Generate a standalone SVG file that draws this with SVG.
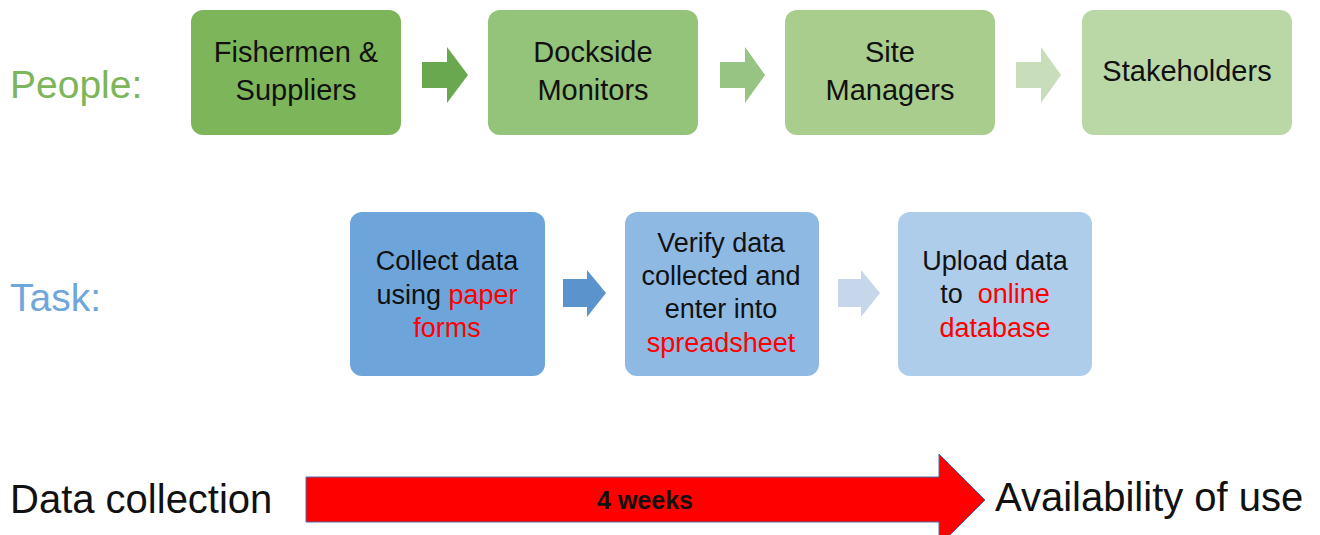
<svg xmlns="http://www.w3.org/2000/svg" width="1320" height="535" viewBox="0 0 1320 535">
<style>
.bt{font-family:"Liberation Sans",Arial,sans-serif;font-size:29px;fill:#111;text-anchor:middle}
.tt{font-family:"Liberation Sans",Arial,sans-serif;font-size:27px;fill:#111;text-anchor:middle}
.r{fill:#ff0000}
.lbl{font-family:"Liberation Sans",Arial,sans-serif;font-size:40px}
</style>
<rect width="1320" height="535" fill="#ffffff"/>
<text class="lbl" x="10" y="98" fill="#7DB55A" style="font-size:39px">People:</text>
<text class="lbl" x="10" y="311" fill="#6FA6DB" style="font-size:39px">Task:</text>
<text class="lbl" x="10" y="513" fill="#111">Data collection</text>
<text class="lbl" x="995" y="511" fill="#111">Availability of use</text>

<g id="n1"><rect x="191" y="10" width="210" height="125" rx="12" fill="#7DB65A"/>
<text class="bt" x="296" y="62">Fishermen &amp;</text><text class="bt" x="296" y="100">Suppliers</text></g>
<g id="n2"><rect x="488" y="10" width="210" height="125" rx="12" fill="#94C37A"/>
<text class="bt" x="593" y="62">Dockside</text><text class="bt" x="593" y="100">Monitors</text></g>
<g id="n3"><rect x="785" y="10" width="210" height="125" rx="12" fill="#A9CD8C"/>
<text class="bt" x="890" y="62">Site</text><text class="bt" x="890" y="100">Managers</text></g>
<g id="n4"><rect x="1082" y="10" width="210" height="125" rx="12" fill="#B9D8A6"/>
<text class="bt" x="1187" y="81">Stakeholders</text></g>

<g id="t1"><rect x="350" y="212" width="195" height="164" rx="12" fill="#6DA5DA"/>
<text class="tt" x="447" y="270">Collect data</text>
<text class="tt" x="447" y="304">using <tspan class="r">paper</tspan></text>
<text class="tt" x="447" y="337"><tspan class="r">forms</tspan></text></g>
<g id="t2"><rect x="625" y="212" width="194" height="164" rx="12" fill="#8EB9E3"/>
<text class="tt" x="721" y="252">Verify data</text>
<text class="tt" x="721" y="285">collected and</text>
<text class="tt" x="721" y="318">enter into</text>
<text class="tt" x="721" y="352"><tspan class="r">spreadsheet</tspan></text></g>
<g id="t3"><rect x="898" y="212" width="194" height="164" rx="12" fill="#AECDEB"/>
<text class="tt" x="995" y="270">Upload data</text>
<text class="tt" x="995" y="303" style="white-space:pre">to  <tspan class="r">online</tspan></text>
<text class="tt" x="995" y="337"><tspan class="r">database</tspan></text></g>

<g id="connectors">
<polygon points="422,62 447,62 447,47 468,75 447,103 447,88 422,88" fill="#6AA84F"/>
<polygon points="720,62 745,62 745,47 765,75 745,103 745,88 720,88" fill="#97C482"/>
<polygon points="1016,62 1041,62 1041,47 1061,75 1041,103 1041,88 1016,88" fill="#C8DEBB"/>
<polygon points="563,279 587,279 587,270 606,293 587,317 587,307 563,307" fill="#5B93CC"/>
<polygon points="838,279 861,279 861,270 880,293 861,317 861,307 838,307" fill="#C6D7EC"/>
<polygon points="306,477 939,477 939,454 985,500 939,546 939,522 306,522" fill="#ff0000" stroke="#4A6FA5" stroke-width="1"/>
</g>
<text x="645" y="509" font-family="'Liberation Sans',Arial,sans-serif" font-size="25" font-weight="bold" fill="#111" text-anchor="middle">4 weeks</text>
</svg>
